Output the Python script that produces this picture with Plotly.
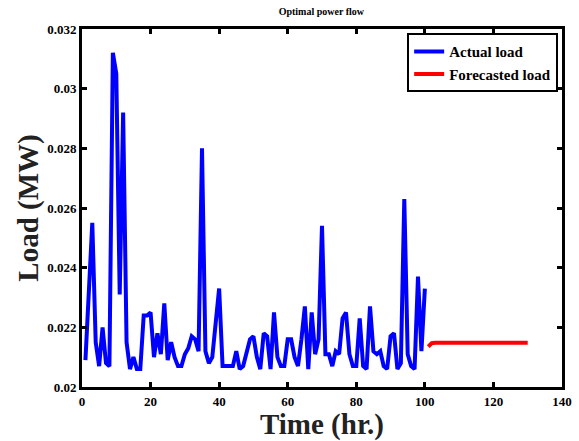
import plotly.graph_objects as go

hours_actual = list(range(1, 101))
load_actual = [
    0.0209, 0.0230, 0.0255, 0.0215, 0.0207, 0.0220, 0.0208, 0.0207, 0.0312, 0.0305,
    0.0231, 0.0292, 0.0215, 0.0206, 0.0210, 0.0206, 0.0206, 0.0224, 0.0224, 0.0225,
    0.0210, 0.0218, 0.0211, 0.0228, 0.0209, 0.0215, 0.0210, 0.0207, 0.0207, 0.0211,
    0.0213, 0.0217, 0.0216, 0.0212, 0.0280, 0.0212, 0.0208, 0.0210, 0.0221, 0.0233,
    0.0207, 0.0207, 0.0207, 0.0207, 0.0212, 0.0206, 0.0207, 0.0212, 0.0216, 0.0217,
    0.0210, 0.0206, 0.0218, 0.0217, 0.0206, 0.0225, 0.0210, 0.0207, 0.0207, 0.0216,
    0.0216, 0.0210, 0.0207, 0.0216, 0.0227, 0.0206, 0.0225, 0.0211, 0.0216, 0.0254,
    0.0211, 0.0211, 0.0207, 0.0212, 0.0211, 0.0223, 0.0225, 0.0211, 0.0207, 0.0207,
    0.0223, 0.0207, 0.0206, 0.0227, 0.0212, 0.0211, 0.0212, 0.0207, 0.0206, 0.0217,
    0.0218, 0.0206, 0.0208, 0.0263, 0.0211, 0.0207, 0.0206, 0.0237, 0.0212, 0.0233,
]

hours_forecast = list(range(101, 131))
load_forecast = [
    0.02135, 0.02147, 0.02148, 0.02148, 0.02148, 0.02148, 0.02148, 0.02148, 0.02148, 0.02148,
    0.02148, 0.02148, 0.02148, 0.02148, 0.02148, 0.02148, 0.02148, 0.02148, 0.02148, 0.02148,
    0.02148, 0.02148, 0.02148, 0.02148, 0.02148, 0.02148, 0.02148, 0.02148, 0.02148, 0.02148,
]

x_ticks = [0, 20, 40, 60, 80, 100, 120, 140]
y_ticks = [0.02, 0.022, 0.024, 0.026, 0.028, 0.03, 0.032]
y_tick_labels = ["0.02", "0.022", "0.024", "0.026", "0.028", "0.03", "0.032"]

SERIF = "Liberation Serif, Times New Roman, serif"

fig = go.Figure()
fig.add_trace(go.Scatter(x=hours_actual, y=load_actual, mode="lines",
                         name="Actual load", line=dict(color="#0000ff", width=4)))
fig.add_trace(go.Scatter(x=hours_forecast, y=load_forecast, mode="lines",
                         name="Forecasted load", line=dict(color="#ff0000", width=4)))

axis_common = dict(
    showline=True, linecolor="black", linewidth=3, mirror="allticks",
    ticks="inside", ticklen=5, tickwidth=3, tickcolor="black",
    showgrid=False, zeroline=False, automargin=False,
    tickfont=dict(family=SERIF, size=13, color="black", weight="bold"),
)

fig.update_layout(
    width=579, height=441,
    margin=dict(l=82, r=17, t=29, b=54),
    paper_bgcolor="white", plot_bgcolor="white",
    title=dict(text="Optimal power flow", x=0.555, xanchor="center", y=0.975, yanchor="middle",
               font=dict(family=SERIF, size=10, color="black", weight="bold")),
    xaxis=dict(range=[0, 140], tickvals=x_ticks,
               title=dict(text="Time (hr.)", standoff=2,
                          font=dict(family=SERIF, size=29, color="#222222", weight="bold")),
               **axis_common),
    yaxis=dict(range=[0.02, 0.032], tickvals=y_ticks, ticktext=y_tick_labels,
               title=dict(text="Load (MW)", standoff=1,
                          font=dict(family=SERIF, size=29, color="#222222", weight="bold")),
               **axis_common),
    legend=dict(x=0.992, y=0.988, xanchor="right", yanchor="top",
                bgcolor="white", bordercolor="black", borderwidth=2,
                font=dict(family=SERIF, size=15, color="black", weight="bold"),
                tracegroupgap=0, itemwidth=30),
    showlegend=True,
)

fig.write_html("out.html")
